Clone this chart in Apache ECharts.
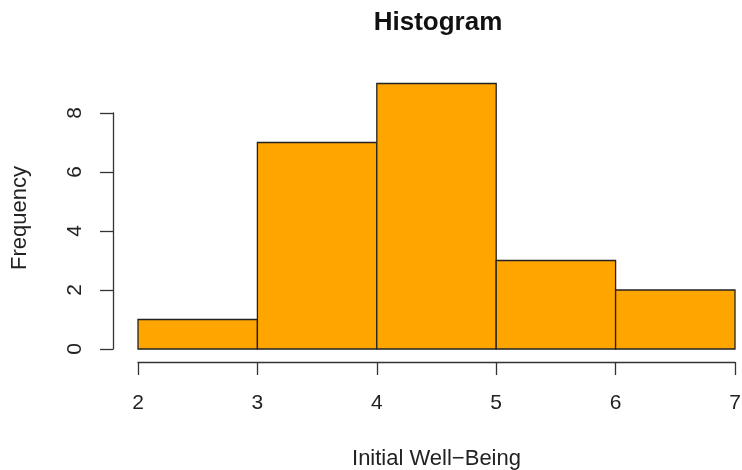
<!DOCTYPE html>
<html><head><meta charset="utf-8">
<script src="https://cdn.jsdelivr.net/npm/echarts@6/dist/echarts.min.js"></script>
<style>html,body{margin:0;padding:0;background:#fff}#c{width:742px;height:470px}</style>
</head><body><div id="c"></div>
<script>
const breaks = [2, 3, 4, 5, 6, 7];
const counts = [1, 7, 9, 3, 2];
const yTicks = [0, 2, 4, 6, 8];
const xTicks = [2, 3, 4, 5, 6, 7];
const titleText = 'Histogram';
const xName = 'Initial Well\u2212Being';
const yName = 'Frequency';

const binData = counts.map((c, i) => [breaks[i], breaks[i + 1], c]);
const FONT = '"Liberation Sans", Arial, sans-serif';
const chart = echarts.init(document.getElementById('c'), null, {renderer: 'canvas'});
chart.setOption({
  animation: false,
  backgroundColor: '#fff',
  title: {text: titleText, left: 433, top: 5, textAlign: 'center',
    textStyle: {fontFamily: FONT, fontWeight: 'bold', fontSize: 26, color: '#111'}},
  grid: {left: 138, right: 7, top: 113, bottom: 121, containLabel: false, outerBoundsMode: 'none'},
  xAxis: {type: 'value', min: xTicks[0], max: xTicks[xTicks.length - 1], interval: 1,
    offset: 13,
    axisLine: {show: true, onZero: false, lineStyle: {color: '#333', width: 1.3}},
    axisTick: {show: true, length: 13, lineStyle: {color: '#333', width: 1.3}},
    axisLabel: {margin: 31, fontFamily: FONT, fontSize: 21, color: '#222'},
    splitLine: {show: false},
    name: xName, nameLocation: 'middle', nameGap: 86,
    nameTextStyle: {fontFamily: FONT, fontSize: 22, color: '#222'}},
  yAxis: {type: 'value', min: yTicks[0], max: yTicks[yTicks.length - 1], interval: 2,
    offset: 25,
    axisLine: {show: true, onZero: false, lineStyle: {color: '#333', width: 1.3}},
    axisTick: {show: true, length: 13, lineStyle: {color: '#333', width: 1.3}},
    axisLabel: {margin: 27, rotate: 90, fontFamily: FONT, fontSize: 21, color: '#222'},
    splitLine: {show: false},
    name: yName, nameLocation: 'middle', nameGap: 82, nameRotate: 90,
    nameTextStyle: {fontFamily: FONT, fontSize: 22, color: '#222', padding: [0, 0, 0, 26]}},
  series: [{
    type: 'custom', clip: false, data: binData,
    encode: {x: [0, 1], y: 2},
    renderItem: function (params, api) {
      const p0 = api.coord([api.value(0), 0]);
      const p1 = api.coord([api.value(1), api.value(2)]);
      return {type: 'rect',
        shape: {x: p0[0], y: p1[1], width: p1[0] - p0[0], height: p0[1] - p1[1]},
        style: {fill: '#FFA500', stroke: '#222', lineWidth: 1.3}};
    }
  }]
});
</script></body></html>
